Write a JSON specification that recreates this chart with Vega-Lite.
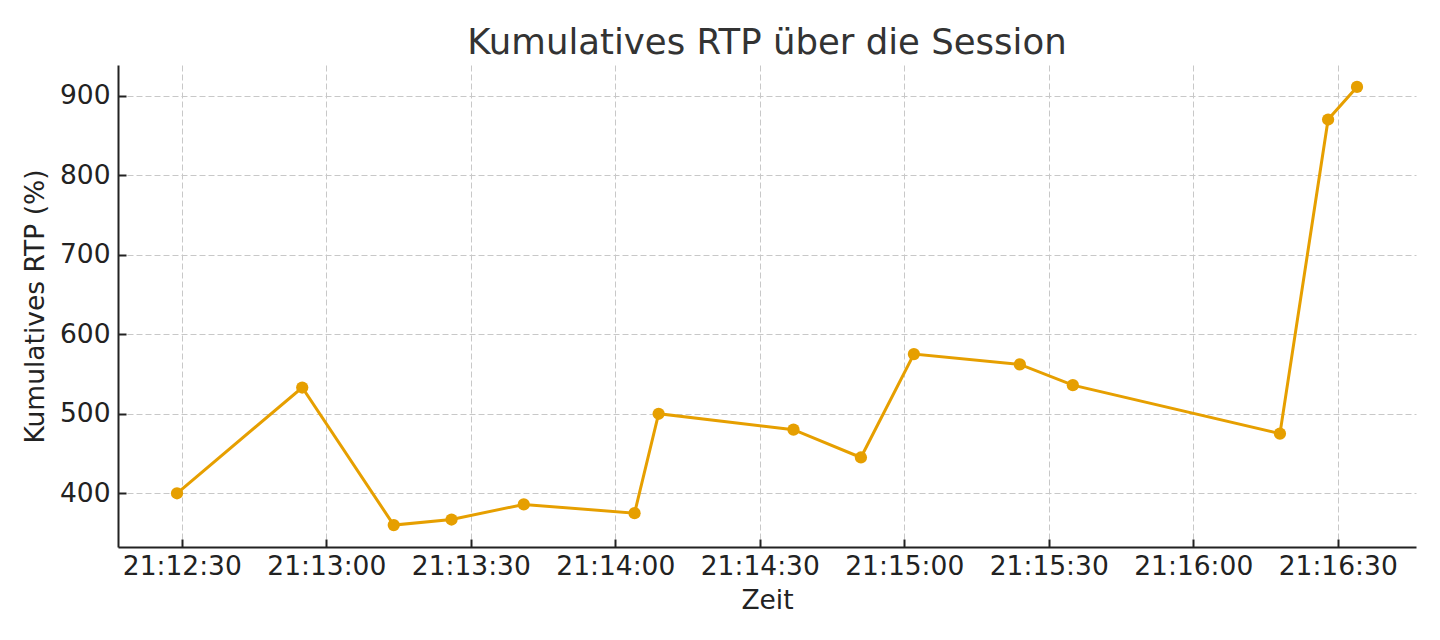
{
  "$schema": "https://vega.github.io/schema/vega-lite/v6.json",
  "width": 1298,
  "height": 482,
  "autosize": "none",
  "padding": {"left": 118, "top": 65, "right": 24, "bottom": 93},
  "background": "white",
  "title": {
    "text": "Kumulatives RTP über die Session",
    "font": "DejaVu Sans",
    "fontSize": 35.5,
    "fontWeight": "normal",
    "color": "#333333",
    "anchor": "middle",
    "offset": 4
  },
  "config": {
    "view": {"stroke": null},
    "axis": {
      "labelFont": "DejaVu Sans",
      "titleFont": "DejaVu Sans",
      "labelFontSize": 26.5,
      "titleFontSize": 26.5,
      "titleFontWeight": "normal",
      "labelColor": "#222222",
      "titleColor": "#222222",
      "domainColor": "#222222",
      "domainWidth": 2,
      "tickColor": "#222222",
      "tickWidth": 2,
      "tickSize": -8,
      "grid": true,
      "gridColor": "#c8c8c8",
      "gridDash": [6, 3],
      "gridWidth": 1
    }
  },
  "data": {
    "values": [
      {"zeit": "2024-01-01T21:12:29", "rtp": 400},
      {"zeit": "2024-01-01T21:12:55", "rtp": 533},
      {"zeit": "2024-01-01T21:13:14", "rtp": 360},
      {"zeit": "2024-01-01T21:13:26", "rtp": 367},
      {"zeit": "2024-01-01T21:13:41", "rtp": 386},
      {"zeit": "2024-01-01T21:14:04", "rtp": 375},
      {"zeit": "2024-01-01T21:14:09", "rtp": 500},
      {"zeit": "2024-01-01T21:14:37", "rtp": 480},
      {"zeit": "2024-01-01T21:14:51", "rtp": 445},
      {"zeit": "2024-01-01T21:15:02", "rtp": 575},
      {"zeit": "2024-01-01T21:15:24", "rtp": 562},
      {"zeit": "2024-01-01T21:15:35", "rtp": 536},
      {"zeit": "2024-01-01T21:16:18", "rtp": 475},
      {"zeit": "2024-01-01T21:16:28", "rtp": 870},
      {"zeit": "2024-01-01T21:16:34", "rtp": 911}
    ]
  },
  "encoding": {
    "x": {
      "field": "zeit",
      "type": "temporal",
      "title": "Zeit",
      "scale": {
        "domain": [
          {"year": 2024, "month": 1, "date": 1, "hours": 21, "minutes": 12, "seconds": 16, "milliseconds": 750},
          {"year": 2024, "month": 1, "date": 1, "hours": 21, "minutes": 16, "seconds": 46, "milliseconds": 250}
        ],
        "nice": false
      },
      "axis": {
        "format": "%H:%M:%S",
        "values": [
          {"year": 2024, "month": 1, "date": 1, "hours": 21, "minutes": 12, "seconds": 30},
          {"year": 2024, "month": 1, "date": 1, "hours": 21, "minutes": 13, "seconds": 0},
          {"year": 2024, "month": 1, "date": 1, "hours": 21, "minutes": 13, "seconds": 30},
          {"year": 2024, "month": 1, "date": 1, "hours": 21, "minutes": 14, "seconds": 0},
          {"year": 2024, "month": 1, "date": 1, "hours": 21, "minutes": 14, "seconds": 30},
          {"year": 2024, "month": 1, "date": 1, "hours": 21, "minutes": 15, "seconds": 0},
          {"year": 2024, "month": 1, "date": 1, "hours": 21, "minutes": 15, "seconds": 30},
          {"year": 2024, "month": 1, "date": 1, "hours": 21, "minutes": 16, "seconds": 0},
          {"year": 2024, "month": 1, "date": 1, "hours": 21, "minutes": 16, "seconds": 30}
        ],
        "labelPadding": 14,
        "titlePadding": 8,
        "labelFlush": false,
        "labelOverlap": false
      }
    },
    "y": {
      "field": "rtp",
      "type": "quantitative",
      "title": "Kumulatives RTP (%)",
      "scale": {"domain": [332.45, 938.55], "nice": false, "zero": false},
      "axis": {
        "values": [400, 500, 600, 700, 800, 900],
        "labelPadding": 16,
        "titlePadding": 10
      }
    }
  },
  "layer": [
    {"mark": {"type": "line", "color": "#E69F00", "strokeWidth": 3}},
    {"mark": {"type": "point", "filled": true, "opacity": 1, "color": "#E69F00", "size": 150}}
  ]
}
